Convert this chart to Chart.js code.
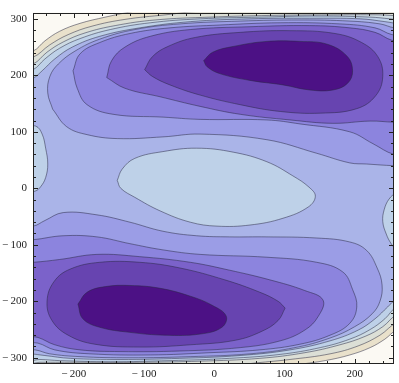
<!DOCTYPE html>
<html>
<head>
<meta charset="utf-8">
<script src="https://cdn.jsdelivr.net/npm/chart.js@4.4.1/dist/chart.umd.min.js"></script>
<style>
  html, body { margin: 0; padding: 0; background: #fff; }
</style>
</head>
<body>
<canvas id="c" width="399" height="383"></canvas>
<script>
// axis setup
const xRange = [-258, 256];
const yRange = [-311, 311];
const xTicks = [-200, -100, 0, 100, 200];
const yTicks = [-300, -200, -100, 0, 100, 200, 300];

// band colours, darkest (lowest) to lightest (highest)
const bandColors = ['#4c1185', '#6744b0', '#7b62ca', '#8c84de', '#9b9de6', '#aab4e8',
                    '#bed1e8', '#cddbe3', '#dcdfd6', '#e9e1cb', '#fbf9f3'];

// contour regions, [x, y] in data units
const frameFill = [[-300, 340], [300, 340], [300, -340], [-300, -340]];

const level10 = [[-277, 243], [-258, 243], [-241, 261], [-220, 278], [-191, 292], [-155, 303], [-120, 312], [-90, 318],
  [279, 318], [279, -251], [260, -251], [243, -267], [222, -282], [193, -295], [158, -305], [120, -312], [90, -318], [-277, -318]];

const level9 = [[-277, 232], [-258, 232], [-234, 254], [-208, 272], [-174, 287], [-127, 299], [-70, 307], [-20, 313],
  [279, 316], [279, -238], [260, -238], [236, -260], [205, -279], [165, -293], [108, -303], [60, -309], [20, -314], [-277, -316]];

const level8 = [[-277, 220], [-258, 220], [-238, 241], [-215, 259], [-184, 275], [-141, 288], [-84, 298], [-6, 303], [79, 306],
  [165, 307], [236, 307], [265, 305], [279, 305], [279, -224], [260, -224], [240, -245], [215, -262], [179, -277], [129, -291],
  [65, -301], [-20, -306], [-106, -308], [-191, -308], [-248, -308], [-277, -308]];

const level7 = [[-277, 208], [-258, 210], [-241, 229], [-220, 248], [-191, 265], [-148, 281], [-91, 293], [-20, 300], [65, 303],
  [151, 305], [222, 303], [250, 300], [265, 298], [279, 298], [279, -210], [260, -210], [243, -231], [222, -250], [193, -267],
  [151, -282], [94, -294], [22, -301], [-63, -305], [-148, -307], [-220, -305], [-248, -303], [-277, -303]];

const level6 = [[-277, 191], [-258, 195], [-245, 208], [-227, 229], [-202, 250], [-163, 269], [-106, 284], [-34, 295], [51, 300],
  [136, 301], [208, 300], [243, 295], [265, 291], [279, 291], [279, -193], [260, -196], [247, -210], [229, -231], [205, -251],
  [165, -270], [108, -286], [37, -296], [-49, -301], [-134, -303], [-205, -301], [-241, -296], [-262, -293], [-277, -293]];

const centerOval = [[-138, 14], [-131, 34], [-113, 53], [-73, 65], [-25, 71], [27, 64], [75, 47], [112, 22], [135, 2], [144, -14],
  [134, -33], [98, -53], [51, -65], [4, -67], [-34, -60], [-77, -40], [-113, -16], [-133, 0]];
const leftBump = [[-277, 112], [-254, 110], [-245, 96], [-240, 71], [-237, 43], [-240, 19], [-247, 3], [-255, -5], [-277, -9]];
const rightBump = [[279, -5], [259, -9], [249, -19], [242, -38], [240, -59], [245, -81], [252, -98], [259, -107], [279, -110]];

const upper5 = [[-230, 140], [-237, 169], [-234, 198], [-222, 220], [-198, 243], [-163, 264], [-113, 281], [-49, 291], [37, 296],
  [122, 298], [193, 296], [236, 291], [257, 284], [279, 284], [279, 40], [256, 40], [217, 43], [193, 45], [146, 62], [75, 86],
  [-20, 96], [-73, 91], [-138, 88], [-181, 95], [-210, 109]];
const lower5 = [[-277, -64], [-258, -67], [-241, -57], [-215, -43], [-167, -47], [-120, -60], [-73, -76], [-25, -84], [22, -86],
  [75, -86], [146, -88], [193, -95], [217, -110], [232, -141], [239, -171], [236, -200], [225, -222], [200, -245], [165, -265],
  [115, -282], [51, -293], [-34, -298], [-120, -300], [-191, -298], [-234, -293], [-255, -286], [-277, -286]];

const upper4 = [[-201, 208], [-191, 238], [-163, 258], [-120, 274], [-63, 284], [8, 289], [94, 293], [179, 291], [229, 284],
  [253, 272], [279, 269], [279, 60], [256, 60], [226, 79], [193, 100], [122, 114], [75, 121], [-20, 122], [-73, 126],
  [-144, 131], [-181, 148], [-195, 177]];
const lower4 = [[-277, -91], [-258, -91], [-215, -84], [-167, -86], [-120, -98], [-73, -109], [-20, -117], [75, -122],
  [146, -131], [183, -148], [197, -179], [203, -210], [193, -239], [165, -260], [122, -276], [65, -286], [-6, -291],
  [-91, -295], [-177, -293], [-227, -286], [-251, -274], [-277, -270]];

const upper3 = [[-153, 196], [-146, 226], [-127, 250], [-91, 269], [-34, 281], [51, 286], [136, 288], [193, 284], [229, 276],
  [253, 262], [279, 257], [279, 117], [256, 117], [222, 119], [169, 115], [108, 121], [37, 131], [-20, 145], [-77, 162],
  [-127, 177]];
const lower3 = [[-277, -131], [-258, -131], [-220, -126], [-167, -117], [-106, -121], [-34, -131], [22, -145], [79, -162],
  [129, -181], [155, -198], [148, -227], [129, -251], [94, -270], [37, -282], [-49, -288], [-134, -289], [-191, -286],
  [-227, -277], [-251, -264], [-277, -258]];

const upper2 = [[-99, 210], [-88, 233], [-66, 251], [-27, 267], [37, 276], [108, 279], [172, 274], [210, 258], [233, 233],
  [240, 198], [230, 164], [203, 141], [151, 133], [94, 136], [37, 148], [-20, 165], [-63, 183], [-88, 198]];
const lower2 = [[101, -212], [91, -234], [68, -253], [30, -269], [-34, -277], [-106, -281], [-170, -276], [-208, -260],
  [-231, -234], [-238, -200], [-228, -165], [-205, -143], [-163, -131], [-106, -131], [-49, -141], [15, -162], [65, -184],
  [91, -200]];

const upper1 = [[-15, 226], [-2, 241], [27, 251], [75, 260], [122, 260], [161, 255], [189, 234], [197, 208], [190, 186],
  [169, 174], [136, 174], [98, 183], [51, 191], [8, 203], [-10, 215]];
const lower1 = [[-194, -205], [-181, -184], [-155, -174], [-120, -172], [-77, -177], [-34, -191], [-3, -207], [17, -226],
  [11, -246], [-20, -258], [-70, -260], [-120, -255], [-163, -246], [-187, -231]];

// painter's order, bottom first: [region, band index]
const layers = [
  [frameFill, 10], [level10, 9], [level9, 8], [level8, 7], [level7, 6], [level6, 5],
  [centerOval, 6], [leftBump, 6], [rightBump, 6],
  [upper5, 4], [lower5, 4], [upper4, 3], [lower4, 3], [upper3, 2], [lower3, 2],
  [upper2, 1], [lower2, 1], [upper1, 0], [lower1, 0]
];

function ring(arr) {
  const pts = arr.map(p => ({x: p[0], y: p[1]}));
  pts.push({x: arr[0][0], y: arr[0][1]});
  return pts;
}

const datasets = layers.map(([arr, band], i) => ({
  data: ring(arr),
  fill: 'shape',
  backgroundColor: bandColors[band],
  borderColor: i === 0 ? 'rgba(0,0,0,0)' : 'rgba(40,40,65,0.6)',
  borderWidth: i === 0 ? 0 : 0.85,
  pointRadius: 0,
  tension: 0.4,
  clip: 0,
  order: layers.length - i
}));

const fmt = v => v < 0 ? '\u2212\u2009' + (-v) : String(v);
const tickFont = {family: "'Liberation Serif', 'DejaVu Serif', serif", size: 11};

// Mathematica style frame with inward ticks on all four sides
const frameTicks = {
  id: 'frameTicks',
  afterDraw(chart) {
    const {ctx, chartArea: a, scales} = chart;
    const L = Math.round(a.left) + 0.5, R = Math.round(a.right) - 0.5;
    const T = Math.round(a.top) + 0.5, B = Math.round(a.bottom) - 0.5;
    ctx.save();
    ctx.strokeStyle = '#222';
    ctx.lineWidth = 1;
    ctx.beginPath();
    for (let v = -240; v <= 240; v += 20) {
      const len = v % 100 === 0 ? 4.5 : 2.5;
      const px = Math.round(scales.x.getPixelForValue(v)) + 0.5;
      ctx.moveTo(px, B); ctx.lineTo(px, B - len);
      ctx.moveTo(px, T); ctx.lineTo(px, T + len);
    }
    for (let v = -300; v <= 300; v += 20) {
      const len = v % 100 === 0 ? 4.5 : 2.5;
      const py = Math.round(scales.y.getPixelForValue(v)) + 0.5;
      ctx.moveTo(L, py); ctx.lineTo(L + len, py);
      ctx.moveTo(R, py); ctx.lineTo(R - len, py);
    }
    ctx.stroke();
    ctx.strokeRect(L, T, R - L, B - T);
    ctx.restore();
  }
};

new Chart(document.getElementById('c'), {
  type: 'line',
  data: { datasets },
  options: {
    responsive: false,
    animation: false,
    events: [],
    layout: { padding: { left: 0, right: 5, top: 2, bottom: 0 } },
    plugins: { legend: { display: false }, tooltip: { enabled: false } },
    scales: {
      x: {
        type: 'linear', min: xRange[0], max: xRange[1],
        afterBuildTicks: s => { s.ticks = xTicks.map(v => ({value: v})); },
        afterFit: s => { s.height = 19; },
        grid: { display: false, drawTicks: false },
        border: { display: false },
        ticks: { font: tickFont, color: '#222', padding: 4, autoSkip: false, maxRotation: 0, callback: fmt }
      },
      y: {
        type: 'linear', min: yRange[0], max: yRange[1],
        afterBuildTicks: s => { s.ticks = yTicks.map(v => ({value: v})); },
        afterFit: s => { s.width = 33; },
        grid: { display: false, drawTicks: false },
        border: { display: false },
        ticks: { font: tickFont, color: '#222', padding: 6, autoSkip: false, callback: fmt }
      }
    }
  },
  plugins: [frameTicks]
});
</script>
</body>
</html>
